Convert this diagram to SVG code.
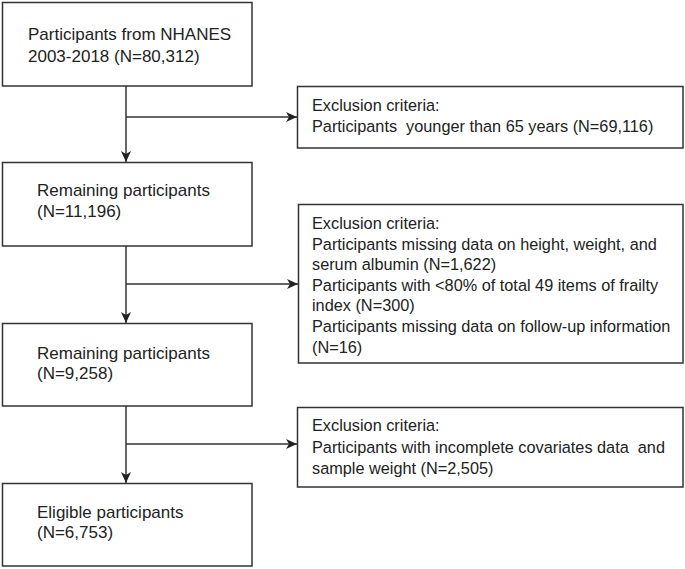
<svg xmlns="http://www.w3.org/2000/svg" width="685" height="569" viewBox="0 0 685 569">
<style>
.box{fill:#fff;stroke:#333;stroke-width:1.5}
.line{fill:none;stroke:#333;stroke-width:1.5}
.tl{font-family:"Liberation Sans",Arial,sans-serif;font-size:17px;fill:#222}
.tr{font-family:"Liberation Sans",Arial,sans-serif;font-size:16.3px;fill:#222}
</style>
<defs>
<marker id="ah" markerUnits="userSpaceOnUse" markerWidth="12" markerHeight="12" viewBox="0 0 12 12" refX="11" refY="6" orient="auto">
<path d="M0,1 L11,6 L0,11 L3,6 Z" fill="#222"/>
</marker>
</defs>
<rect width="685" height="569" fill="#fff"/>
<g id="connectors">
<line class="line" x1="126" y1="86" x2="126" y2="162" marker-end="url(#ah)"/>
<line class="line" x1="126" y1="117" x2="297" y2="117" marker-end="url(#ah)"/>
<line class="line" x1="126" y1="246" x2="126" y2="323" marker-end="url(#ah)"/>
<line class="line" x1="126" y1="284" x2="298" y2="284" marker-end="url(#ah)"/>
<line class="line" x1="126" y1="406" x2="126" y2="483" marker-end="url(#ah)"/>
<line class="line" x1="126" y1="444" x2="297" y2="444" marker-end="url(#ah)"/>
</g>
<g id="n1">
<rect class="box" x="2.5" y="2.5" width="249.5" height="83.5"/>
<text class="tl" x="28" y="40">Participants from NHANES</text>
<text class="tl" x="28" y="62">2003-2018 (N=80,312)</text>
</g>
<g id="e1">
<rect class="box" x="297.5" y="86.5" width="385.5" height="61.5"/>
<text class="tr" x="312" y="111">Exclusion criteria:</text>
<text class="tr" x="312" y="132" xml:space="preserve">Participants  younger than 65 years (N=69,116)</text>
</g>
<g id="n2">
<rect class="box" x="2.5" y="162.5" width="249.5" height="83.5"/>
<text class="tl" x="37" y="196">Remaining participants</text>
<text class="tl" x="37" y="217">(N=11,196)</text>
</g>
<g id="e2">
<rect class="box" x="298.5" y="204.5" width="384.5" height="158.5"/>
<text class="tr" x="312" y="229">Exclusion criteria:</text>
<text class="tr" x="312" y="249.6">Participants missing data on height, weight, and</text>
<text class="tr" x="312" y="270.2">serum albumin (N=1,622)</text>
<text class="tr" x="312" y="290.8">Participants with &lt;80% of total 49 items of frailty</text>
<text class="tr" x="312" y="311.4">index (N=300)</text>
<text class="tr" x="312" y="332">Participants missing data on follow-up information</text>
<text class="tr" x="312" y="352.6">(N=16)</text>
</g>
<g id="n3">
<rect class="box" x="2.5" y="323.5" width="249.5" height="82.5"/>
<text class="tl" x="37" y="359">Remaining participants</text>
<text class="tl" x="37" y="379">(N=9,258)</text>
</g>
<g id="e3">
<rect class="box" x="297.5" y="407.5" width="385.5" height="79.5"/>
<text class="tr" x="312" y="431">Exclusion criteria:</text>
<text class="tr" x="312" y="453" xml:space="preserve">Participants with incomplete covariates data  and</text>
<text class="tr" x="312" y="474">sample weight (N=2,505)</text>
</g>
<g id="n4">
<rect class="box" x="2.5" y="483.5" width="249.5" height="82.5"/>
<text class="tl" x="37" y="518">Eligible participants</text>
<text class="tl" x="37" y="538">(N=6,753)</text>
</g>
</svg>
